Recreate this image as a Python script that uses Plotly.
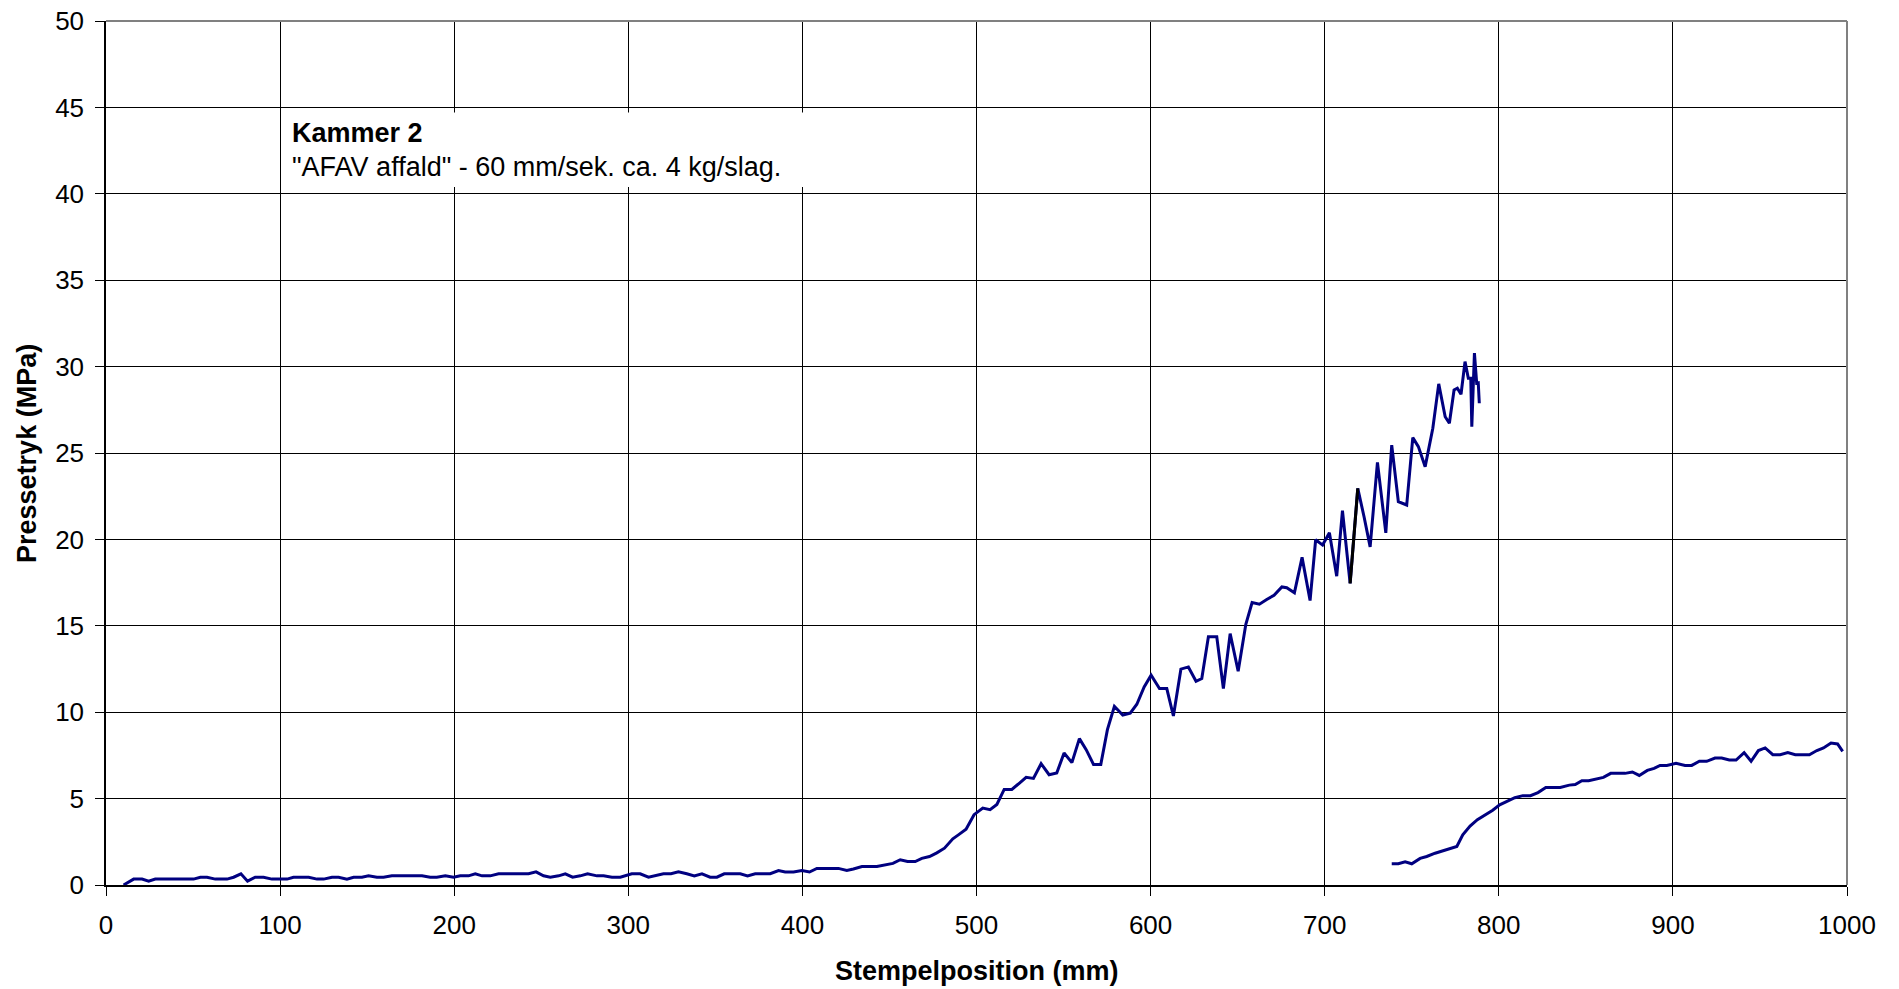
import plotly.graph_objects as go

# Series 1: first stroke (Stempelposition mm, Pressetryk MPa)
pos_1 = [10.1, 15.9, 20.7, 24.5, 28.3, 50.3, 54.2, 58.0, 62.8, 69.5, 73.3, 77.5, 81.3, 85.7, 90.5,
         95.3, 104.0, 107.7, 116.4, 121.2, 125.0, 129.8, 133.6, 138.4, 142.2, 147.0, 150.8, 155.6,
         159.4, 164.2, 181.5, 186.2, 190.0, 194.9, 199.6, 203.5, 208.2, 212.1, 216.0, 220.7, 225.5,
         242.7, 247.0, 251.3, 255.2, 260.0, 263.8, 268.0, 272.4, 276.6, 282.0, 285.8, 290.6, 295.4,
         302.0, 306.8, 311.6, 315.4, 320.2, 324.5, 328.8, 333.6, 337.9, 342.3, 347.0, 350.9, 355.1,
         364.3, 368.5, 372.9, 381.5, 386.3, 390.1, 394.9, 399.7, 404.1, 408.3, 420.7, 425.5, 429.3,
         434.2, 442.8, 447.5, 452.0, 456.2, 460.4, 464.8, 468.6, 473.0, 477.2, 481.6, 486.4, 489.6,
         494.0, 498.6, 503.6, 507.8, 511.7, 515.9, 520.3, 524.7, 528.5, 532.7, 537.1, 541.7, 546.1,
         550.3, 554.8, 559.1, 563.0, 567.2, 571.4, 575.2, 579.2, 584.0, 588.3, 592.1, 596.3, 600.3,
         605.1, 609.3, 613.1, 617.4, 621.7, 626.1, 629.4, 633.2, 638.0, 641.8, 645.7, 650.3, 654.7,
         658.3, 662.5, 666.7, 670.9, 675.4, 678.2, 682.6, 687.0, 691.6, 694.8, 698.8, 702.7, 706.9,
         710.2, 714.6, 719.0, 722.6, 726.1, 730.3, 735.1, 738.5, 742.3, 747.1, 750.6, 753.8, 757.7,
         762.1, 765.5, 769.2, 771.6, 774.3, 776.2, 778.3, 780.6, 782.5, 783.9, 784.5, 786.0, 787.3,
         788.2, 788.8]
tryk_1 = [0.0, 0.34, 0.34, 0.22, 0.34, 0.34, 0.45, 0.45, 0.34, 0.34, 0.45, 0.65, 0.22, 0.45, 0.45,
          0.34, 0.34, 0.45, 0.45, 0.34, 0.34, 0.45, 0.45, 0.34, 0.45, 0.45, 0.53, 0.45,
          0.45, 0.53, 0.53, 0.45, 0.45, 0.53, 0.45, 0.53, 0.53, 0.65, 0.53, 0.53, 0.65,
          0.65, 0.76, 0.53, 0.45, 0.53, 0.65, 0.45, 0.53, 0.65, 0.53, 0.53, 0.45, 0.45,
          0.65, 0.65, 0.45, 0.53, 0.65, 0.65, 0.76, 0.65, 0.53, 0.65, 0.45, 0.45, 0.65,
          0.65, 0.53, 0.65, 0.65, 0.84, 0.75, 0.75, 0.84, 0.75, 0.96, 0.96, 0.84, 0.93,
          1.07, 1.07, 1.14, 1.25, 1.46, 1.36, 1.36, 1.54, 1.65, 1.86, 2.13, 2.67, 2.90,
          3.23, 4.07, 4.45, 4.36, 4.66, 5.53, 5.53, 5.90, 6.23, 6.17, 7.02, 6.38, 6.48,
          7.64, 7.08, 8.47, 7.83, 6.98, 6.98, 8.99, 10.34, 9.84, 9.95, 10.46, 11.46, 12.14,
          11.37, 11.37, 9.78, 12.49, 12.62, 11.79, 11.95, 14.36, 14.36, 11.37, 14.55, 12.37, 15.09,
          16.35, 16.25, 16.52, 16.77, 17.25, 17.20, 16.91, 18.96, 16.46, 19.98, 19.67, 20.38, 17.87,
          21.66, 17.45, 22.95, 21.31, 19.57, 24.46, 20.38, 25.46, 22.18, 21.99, 25.89, 25.37, 24.21,
          26.43, 29.00, 27.10, 26.72, 28.65, 28.75, 28.40, 30.29, 29.33, 29.33, 26.52, 30.78, 29.04,
          29.06, 27.88]

# Series 2: second stroke
pos_2 = [738.5, 742.3, 746.2, 750.0, 754.8, 758.6, 763.4, 767.2, 772.0, 775.9, 779.3, 783.5, 787.7,
         792.1, 796.5, 800.5, 804.6, 809.2, 813.8, 818.2, 822.5, 827.0, 835.3, 840.5, 843.9, 847.7,
         851.6, 856.3, 860.1, 864.3, 872.5, 876.7, 880.7, 885.3, 889.2, 892.6, 896.5, 901.8, 907.0,
         910.8, 915.2, 919.4, 924.2, 928.0, 932.4, 936.3, 940.9, 944.9, 949.1, 953.0, 957.4, 961.6,
         966.0, 970.3, 978.4, 982.7, 986.5, 990.8, 994.6, 997.5]
tryk_2 = [1.23, 1.23, 1.34, 1.23, 1.54, 1.65, 1.84, 1.96, 2.15, 2.23, 2.91, 3.41, 3.78,
          4.04, 4.33, 4.64, 4.82, 5.05, 5.17, 5.17, 5.35, 5.64, 5.64, 5.78, 5.82, 6.04,
          6.04, 6.15, 6.23, 6.46, 6.46, 6.54, 6.34, 6.63, 6.75, 6.92, 6.92, 7.04, 6.92,
          6.92, 7.16, 7.16, 7.35, 7.35, 7.23, 7.23, 7.66, 7.16, 7.78, 7.93, 7.54, 7.54,
          7.66, 7.54, 7.54, 7.78, 7.93, 8.22, 8.16, 7.73]

x_ticks = list(range(0, 1001, 100))
y_ticks = list(range(0, 51, 5))

x_title = "Stempelposition (mm)"
y_title = "Pressetryk (MPa)"
box_title = "Kammer 2"
box_text = "\"AFAV affald\" - 60 mm/sek. ca. 4 kg/slag."

FONT = "Arial, 'Liberation Sans', sans-serif"
LINE = "#000080"
LW = 3

fig = go.Figure()
fig.add_trace(go.Scatter(x=pos_1, y=tryk_1, mode="lines",
                         line=dict(color=LINE, width=LW), showlegend=False))
fig.add_trace(go.Scatter(x=pos_2, y=tryk_2, mode="lines",
                         line=dict(color=LINE, width=LW), showlegend=False))
# one segment appears black in the reference
k = pos_1.index(714.6)
fig.add_trace(go.Scatter(x=pos_1[k:k + 2], y=tryk_1[k:k + 2], mode="lines",
                         line=dict(color="#000000", width=LW), showlegend=False))

axis_common = dict(
    showgrid=True, gridcolor="#000000", gridwidth=1,
    showline=True, linecolor="#000000", linewidth=1.5,
    ticks="outside", ticklen=9, tickcolor="#000000", tickwidth=1,
    tickfont=dict(family=FONT, size=26, color="#000000"),
    zeroline=False, fixedrange=True,
)

fig.update_layout(
    width=1899, height=989,
    margin=dict(l=106, r=52, t=21, b=104, autoexpand=False),
    paper_bgcolor="white", plot_bgcolor="white",
    font=dict(family=FONT, color="#000000"),
    xaxis=dict(range=[0, 1000], tickvals=x_ticks, ticktext=[str(v) for v in x_ticks],
               ticklabelstandoff=7, **axis_common),
    yaxis=dict(range=[0, 50], tickvals=y_ticks, ticktext=[str(v) for v in y_ticks],
               ticklabelstandoff=6, **axis_common),
    shapes=[
        dict(type="rect", xref="x", yref="y", x0=101, x1=402, y0=40.4, y1=44.7,
             fillcolor="white", line=dict(width=0), layer="above"),
        dict(type="line", xref="paper", yref="paper", x0=0, x1=1, y0=1, y1=1,
             line=dict(color="#808080", width=2), layer="above"),
        dict(type="line", xref="paper", yref="paper", x0=1, x1=1, y0=0, y1=1,
             line=dict(color="#808080", width=2), layer="above"),
    ],
    annotations=[
        dict(text=f"<b>{x_title}</b>", xref="paper", yref="paper", x=0.5, y=-0.099,
             xanchor="center", yanchor="middle", showarrow=False,
             font=dict(family=FONT, size=27, color="#000000")),
        dict(text=f"<b>{y_title}</b>", xref="paper", yref="paper", x=-0.0454, y=0.5,
             xanchor="center", yanchor="middle", showarrow=False, textangle=-90,
             font=dict(family=FONT, size=27, color="#000000")),
        dict(text=f"<b>{box_title}</b>", xref="x", yref="y", x=105.6, y=43.5,
             xanchor="left", yanchor="middle", showarrow=False,
             font=dict(family=FONT, size=27, color="#000000")),
        dict(text=box_text, xref="x", yref="y", x=105.6, y=41.55,
             xanchor="left", yanchor="middle", showarrow=False,
             font=dict(family=FONT, size=27, color="#000000")),
    ],
)

fig.write_html("out.html")
